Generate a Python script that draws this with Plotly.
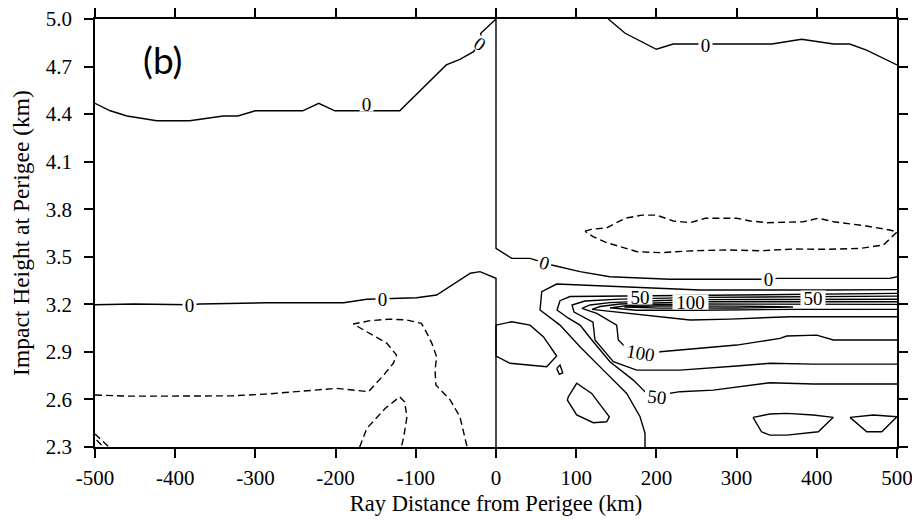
import plotly.graph_objects as go

# ---- axis ticks ----
x_ticks = [-500, -400, -300, -200, -100, 0, 100, 200, 300, 400, 500]
y_ticks = [2.3, 2.6, 2.9, 3.2, 3.5, 3.8, 4.1, 4.4, 4.7, 5.0]

# ---- contour lines (x in km, y in km) ----
# zero contour: upper-left, down the x=0 boundary, then right at ~3.4 km
zero_upper_x = [-500, -481, -460, -423, -382, -340, -322, -300, -241, -221, -201, -180, -141, -120,
                -62, -45, -28, -19, -19, 0, 0, 19.6, 42.4, 69.5, 104.7, 142, 217, 329, 351.6, 491, 500]
zero_upper_y = [4.468, 4.421, 4.388, 4.358, 4.358, 4.388, 4.388, 4.421, 4.421, 4.468, 4.421, 4.421, 4.421, 4.421,
                4.710, 4.745, 4.794, 4.86, 4.91, 5.0, 3.553, 3.490, 3.490, 3.448, 3.406, 3.374, 3.358, 3.358, 3.364, 3.364, 3.374]
zero_mid_x = [-500, -452, -382, -369, -286, -190, -161, -128, -99, -74, -45, -32, -20, 0, 0]
zero_mid_y = [3.197, 3.202, 3.197, 3.202, 3.210, 3.210, 3.232, 3.238, 3.242, 3.259, 3.353, 3.396, 3.406, 3.364, 2.3]
zero_top_x = [140, 161, 200, 221, 273, 344, 381, 421, 441, 462, 500]
zero_top_y = [5.0, 4.910, 4.809, 4.842, 4.842, 4.842, 4.872, 4.842, 4.842, 4.804, 4.710]

# negative (dashed) contours
neg_right_x = [111, 119, 138, 161, 182, 200, 221, 242, 261, 300, 317, 338, 383, 402, 421, 462, 491, 500,
               483, 454, 412, 371, 329, 288, 246, 205, 176, 138, 121, 111]
neg_right_y = [3.662, 3.673, 3.683, 3.743, 3.763, 3.763, 3.726, 3.715, 3.743, 3.743, 3.726, 3.715, 3.721, 3.743, 3.721, 3.694, 3.669, 3.656,
               3.574, 3.553, 3.547, 3.549, 3.538, 3.543, 3.538, 3.526, 3.532, 3.589, 3.627, 3.662]
neg_left_x = [-500, -460, -411, -328, -286, -240, -199, -159, -140, -128, -124, -136, -157, -178,
              -157, -132, -111, -93, -86, -80, -74, -76, -75, -57, -45, -36]
neg_left_y = [2.628, 2.621, 2.621, 2.623, 2.634, 2.655, 2.670, 2.649, 2.754, 2.828, 2.880, 2.954, 3.017, 3.076,
              3.097, 3.107, 3.101, 3.080, 3.017, 2.954, 2.869, 2.785, 2.691, 2.596, 2.491, 2.30]
neg_arch_x = [-170, -161, -138, -120, -114, -111, -115, -118]
neg_arch_y = [2.30, 2.418, 2.544, 2.617, 2.585, 2.491, 2.365, 2.30]
neg_corner1_x = [-500, -483]
neg_corner1_y = [2.382, 2.302]
neg_corner2_x = [-498, -490]
neg_corner2_y = [2.344, 2.302]

# positive (solid) contours, right half
pos25_x = [500, 416.5, 254.4, 158.4, 75.7, 57, 54.9, 79.8, 104.7, 133.8, 163, 179.6, 185.8, 185.8]
pos25_y = [3.293, 3.290, 3.290, 3.311, 3.328, 3.280, 3.164, 3.069, 2.933, 2.785, 2.638, 2.491, 2.386, 2.30]
pos50_x = [500, 416.5, 254.4, 163, 92.3, 79.8, 76.1, 89.8, 104.7, 121.3, 142.1, 171.2, 187.9, 200,
           229.4, 271, 341.6, 395.6, 500]
pos50_y = [3.269, 3.265, 3.259, 3.256, 3.249, 3.223, 3.164, 3.114, 3.069, 2.964, 2.838, 2.722, 2.638, 2.625,
           2.649, 2.659, 2.705, 2.697, 2.697]
pos75_x = [500, 416.5, 254.4, 154.6, 111, 94.8, 97.3, 120.9, 123.4, 146.3, 175.4, 229.4, 262.7, 300.1, 341.6, 395.6, 500]
pos75_y = [3.252, 3.249, 3.244, 3.233, 3.221, 3.196, 3.151, 3.088, 2.975, 2.838, 2.785, 2.785, 2.796, 2.811, 2.828, 2.823, 2.823]
pos100_x = [500, 416.5, 254.4, 204.5, 142.1, 117.2, 107.2, 125.6, 150.5, 152.5, 163, 179.6, 204.5, 229.4,
            300.1, 354.1, 362.5, 399.9, 420.6, 500]
pos100_y = [3.232, 3.230, 3.230, 3.224, 3.211, 3.196, 3.175, 3.143, 3.069, 2.975, 2.922, 2.895, 2.901, 2.912,
            2.943, 2.985, 3.000, 3.006, 2.975, 2.975]
pos125_x = [500, 254.4, 154.6, 129.7, 119.7, 163, 241.9, 291.8, 366.6, 500]
pos125_y = [3.216, 3.216, 3.202, 3.186, 3.168, 3.143, 3.101, 3.107, 3.122, 3.122]
pos150_x = [500, 254.4, 167, 142.1, 175, 254.4, 370.3, 441.4, 500]
pos150_y = [3.200, 3.202, 3.194, 3.178, 3.163, 3.163, 3.168, 3.168, 3.168]
pos175_x = [370.3, 300, 204.5, 160, 204.5, 300, 370.3]
pos175_y = [3.183, 3.189, 3.190, 3.183, 3.176, 3.177, 3.183]
blob1_x = [0, 19.6, 42.4, 59, 75.7, 63.2, 17.5, 0, 0]
blob1_y = [3.069, 3.090, 3.069, 2.996, 2.874, 2.806, 2.828, 2.874, 3.069]
blob2_x = [75.7, 79.8, 83.2, 79, 75.7]
blob2_y = [2.796, 2.817, 2.768, 2.758, 2.796]
blob3_x = [90.2, 100.6, 119.3, 141.3, 138, 121.3, 100.6, 89, 90.2]
blob3_y = [2.617, 2.702, 2.638, 2.491, 2.459, 2.453, 2.502, 2.596, 2.617]
blob4_x = [320.5, 341.4, 362.5, 395.6, 420.6, 401.9, 362.5, 341.4, 331, 320.5]
blob4_y = [2.487, 2.508, 2.512, 2.502, 2.487, 2.396, 2.375, 2.375, 2.396, 2.487]
blob5_x = [441.4, 470.5, 500, 481, 462.3, 441.4]
blob5_y = [2.487, 2.502, 2.491, 2.396, 2.396, 2.487]

# contour labels
label_text = ["0", "0", "0", "0", "0", "0", "0", "50", "100", "50", "100", "50"]
label_x = [-161, -20, 261, 61, 340, -382, -141, 179.6, 242, 395.6, 179.6, 200.4]
label_y = [4.464, 4.84, 4.836, 3.462, 3.358, 3.197, 3.235, 3.248, 3.216, 3.242, 2.890, 2.617]
label_angle = [0, 35, 0, 17, 0, 0, 0, 0, 0, 0, 10, 6]

solid_lines = [
    (zero_upper_x, zero_upper_y), (zero_mid_x, zero_mid_y), (zero_top_x, zero_top_y),
    (pos25_x, pos25_y), (pos50_x, pos50_y), (pos75_x, pos75_y), (pos100_x, pos100_y),
    (pos125_x, pos125_y), (pos150_x, pos150_y), (pos175_x, pos175_y),
    (blob1_x, blob1_y), (blob2_x, blob2_y), (blob3_x, blob3_y), (blob4_x, blob4_y), (blob5_x, blob5_y),
]
dashed_lines = [
    (neg_right_x, neg_right_y), (neg_left_x, neg_left_y), (neg_arch_x, neg_arch_y),
    (neg_corner1_x, neg_corner1_y), (neg_corner2_x, neg_corner2_y),
]

fig = go.Figure()
for xs, ys in solid_lines:
    fig.add_trace(go.Scatter(x=xs, y=ys, mode="lines", line=dict(color="black", width=1.4),
                             showlegend=False, hoverinfo="skip"))
for xs, ys in dashed_lines:
    fig.add_trace(go.Scatter(x=xs, y=ys, mode="lines", line=dict(color="black", width=1.4, dash="7px,4px"),
                             showlegend=False, hoverinfo="skip"))

for t, lx, ly, ang in zip(label_text, label_x, label_y, label_angle):
    fig.add_annotation(x=lx, y=ly, xref="x", yref="y", text=t, showarrow=False, textangle=ang,
                       font=dict(family="Liberation Serif", size=19, color="black"),
                       bgcolor="white", borderpad=0, width=11 * len(t) + 2, height=14)

fig.add_annotation(x=0.084, y=0.906, xref="paper", yref="paper", text="(b)", showarrow=False,
                   xanchor="center", yanchor="middle",
                   font=dict(family="Lato", size=37, color="black"))

axis_common = dict(showgrid=False, zeroline=False, showline=True, linecolor="black", linewidth=1.5,
                   mirror="ticks", ticks="outside", ticklen=9, tickwidth=1.5, tickcolor="black",
                   automargin=False, ticklabeloverflow="allow",
                   tickfont=dict(family="Liberation Serif", size=21, color="black"))

# the page body adds an 8 px margin, so the figure is sized to fit inside 920x524
fig.update_layout(
    width=904, height=508,
    margin=dict(l=87, r=15, t=11, b=69),
    paper_bgcolor="white", plot_bgcolor="white",
    xaxis=dict(range=[-500, 500], tickvals=x_ticks, ticktext=[str(v) for v in x_ticks],
               title=dict(text="Ray Distance from Perigee (km)", standoff=10,
                          font=dict(family="Liberation Serif", size=22.5, color="black")),
               ticklabelstandoff=2, **axis_common),
    yaxis=dict(range=[2.3, 5.0], tickvals=y_ticks, ticktext=[f"{v:.1f}" for v in y_ticks],
               title=dict(text="Impact Height at Perigee (km)", standoff=10,
                          font=dict(family="Liberation Serif", size=23.5, color="black")),
               ticklabelstandoff=8, **axis_common),
)

fig.write_html("out.html")
